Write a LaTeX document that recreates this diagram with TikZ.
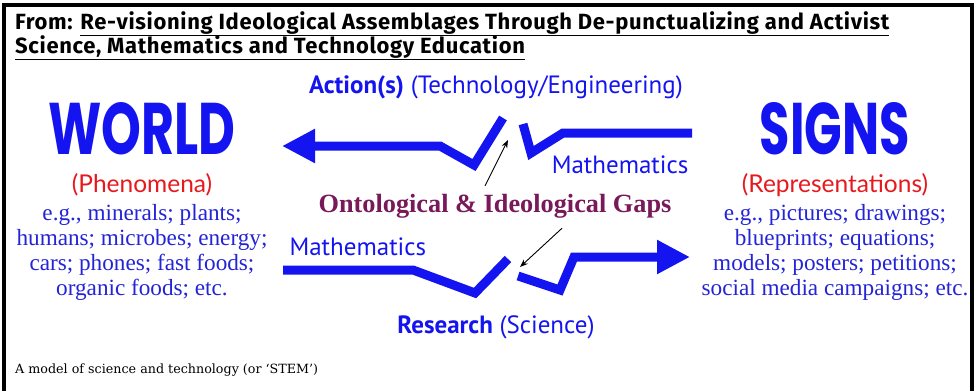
\documentclass[tikz,border=0pt]{standalone}
\usepackage{fontspec}
\usepackage{graphicx}
\setmainfont{Liberation Serif}
\newfontfamily\headfont{PT Sans}
\newfontfamily\titlefont[LetterSpace=3]{Fira Sans}
\newfontfamily\gillfont{Lato}
\newfontfamily\notefont{DejaVu Serif}
\newfontfamily\bigfont{Poppins}
\usetikzlibrary{arrows.meta}
\definecolor{sigblue}{RGB}{20,20,240}
\definecolor{textblue}{RGB}{35,35,215}
\definecolor{phenred}{RGB}{230,25,30}
\definecolor{gapplum}{RGB}{120,25,90}
\begin{document}
\begin{tikzpicture}[x=1pt,y=-1pt,
	zig/.style={draw=sigblue,line width=9pt,miter limit=10},
	bigarrow/.style={zig,-{Triangle[length=33pt,width=32pt]}},
	gap/.style={-{Stealth[length=8pt,width=6pt]},line width=0.9pt},
	big/.style={text=sigblue,font=\bigfont\bfseries,inner sep=0},
	kind/.style={text=phenred,inner sep=0,font=\gillfont\fontsize{24.5}{26}\selectfont},
	list/.style={text=textblue,align=center,inner sep=0,font=\fontsize{23.2}{25}\selectfont},
	side/.style={text=sigblue,font=\headfont\fontsize{25}{28}\selectfont},
	head/.style={anchor=base west,inner sep=0,font=\titlefont\bfseries\fontsize{22}{24}\selectfont}]
	\useasboundingbox (0,0) rectangle (975,391);
	\draw[line width=4pt] (4,391)--(4,5)--(972,5)--(972,391);
	
	% heading and caption
	\node[head] (title1) at (15,29) {From: \underline{Re-visioning Ideological Assemblages Through De-punctualizing and Activist}};
	\node[head] (title2) at (15,53) {\underline{Science, Mathematics and Technology Education}};
	\node[anchor=base west,inner sep=0,font=\notefont\fontsize{12.7}{14}\selectfont] (caption) at (15,373) {A model of science and technology (or ‘STEM’)};
	
	% the two sides
	\node[big] (world) at (142,129) {\resizebox{187pt}{52pt}{WORLD}};
	\node[big] (signs) at (835,129) {\resizebox{150pt}{52pt}{SIGNS}};
	\node[kind] (phen) at (142,185) {(Phenomena)};
	\node[kind] (repr) at (835,185) {(Representations)};
	\node[list] (phenlist) at (142,252) {e.g., minerals; plants;\\humans; microbes; energy;\\cars; phones; fast foods;\\organic foods; etc.};
	\node[list] (reprlist) at (835,252) {e.g., pictures; drawings;\\blueprints; equations;\\models; posters; petitions;\\social media campaigns; etc.};
	
	% labels in the middle
	\node[side] (action) at (496,87) {\textbf{Action(s)} (Technology/Engineering)};
	\node[side] (research) at (496,327) {\textbf{Research} (Science)};
	\node[side,anchor=east] (mathup) at (692,165) {Mathematics};
	\node[side,anchor=west] (mathlo) at (286,247) {Mathematics};
	\node[text=gapplum,inner sep=0,font=\bfseries\fontsize{26.3}{27}\selectfont] (gaps) at (495,206) {Ontological \& Ideological Gaps};
	
	% broken arrows
	\draw[bigarrow] (503,118)--(474,165)--(440,146)--(282,146);
	\draw[zig] (523,124)--(531,153)--(563,133)--(692,133);
	\draw[zig] (283,270)--(413,270)--(475,293)--(508,259);
	\draw[bigarrow] (518,276)--(560,290)--(574,257)--(690,257);
	
	\coordinate (gapup) at (508,140);
	\coordinate (gaplo) at (520,267);
	\draw[gap] ([xshift=-10pt,yshift=8pt]gaps.north)--(gapup);
	\draw[gap] ([xshift=67pt,yshift=-10pt]gaps.south)--(gaplo);
\end{tikzpicture}
\end{document}
